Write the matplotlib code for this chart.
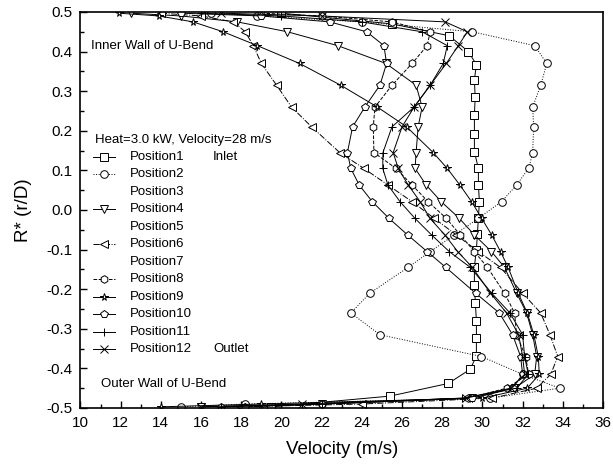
import numpy as np
import matplotlib as mpl
import matplotlib.pyplot as plt
from matplotlib.ticker import MultipleLocator

mpl.rcParams['font.family'] = ['Liberation Sans', 'DejaVu Sans']

# radial positions R* = r/D (shared grid for positions 2-12)
r_grid = [0.497, 0.49, 0.475, 0.45, 0.415, 0.37, 0.315, 0.26, 0.21, 0.145, 0.105, 0.063, 0.021,
          -0.021, -0.063, -0.105, -0.145, -0.21, -0.26, -0.315, -0.37, -0.415, -0.45, -0.475, -0.49, -0.497]
# inlet traverse uses its own grid
r_pos1 = [0.497, 0.47, 0.44, 0.40, 0.367, 0.329, 0.285, 0.239, 0.192, 0.147, 0.105, 0.063, 0.021,
          -0.019, -0.061, -0.10, -0.143, -0.189, -0.236, -0.28, -0.324, -0.368, -0.402, -0.438, -0.47, -0.497]

v_pos1 = [20.0, 25.5, 28.35, 29.3, 29.7, 29.6, 29.64, 29.6, 29.6, 29.6, 29.8, 29.8, 29.85,
          29.8, 29.75, 29.7, 29.6, 29.6, 29.65, 29.7, 29.7, 29.7, 29.4, 28.3, 25.4, 19.5]
v_pos2 = [16.5, 18.8, 24.0, 29.5, 32.6, 33.2, 32.9, 32.5, 32.55, 32.5, 32.3, 31.7, 30.95,
          29.8, 28.6, 27.4, 26.3, 24.4, 23.45, 24.9, 29.95, 32.0, 33.85, 30.4, 18.2, 15.0]
v_pos4 = [12.5, 15.0, 17.8, 20.3, 22.8, 25.2, 26.7, 27.0, 26.8, 26.7, 26.65, 27.2, 27.95,
          28.85, 29.6, 30.45, 31.1, 31.7, 32.2, 32.5, 32.7, 32.6, 31.6, 29.5, 22.0, 16.0]
v_pos6 = [14.0, 16.0, 17.6, 18.2, 18.6, 19.0, 19.76, 20.5, 21.5, 22.9, 24.1, 25.3, 26.5,
          27.6, 28.7, 29.8, 30.9, 32.0, 32.9, 33.36, 33.75, 33.4, 32.7, 30.5, 24.0, 18.0]
v_pos8 = [19.0, 22.0, 25.5, 27.4, 27.25, 26.5, 25.5, 24.65, 24.57, 24.6, 25.7, 26.5, 27.3,
          28.2, 28.9, 29.6, 30.25, 31.1, 31.6, 31.7, 32.15, 32.3, 31.2, 29.3, 22.0, 18.2]
v_pos9 = [11.9, 13.9, 15.6, 17.1, 18.8, 20.9, 22.95, 24.77, 26.23, 27.55, 28.25, 28.88, 29.46,
          29.96, 30.46, 30.9, 31.28, 31.78, 32.23, 32.56, 32.78, 32.83, 32.23, 30.0, 19.0, 14.0]
v_pos10 = [15.0, 19.0, 22.4, 24.24, 25.1, 25.23, 24.9, 24.15, 23.54, 23.28, 23.45, 23.87, 24.52,
           25.35, 26.28, 27.25, 28.18, 29.66, 30.84, 31.5, 31.9, 32.0, 31.5, 29.5, 22.0, 17.0]
v_pos11 = [16.0, 20.0, 24.0, 27.0, 28.25, 28.05, 27.4, 26.6, 25.5, 25.05, 25.04, 25.3, 25.9,
           26.64, 27.47, 28.35, 29.4, 30.46, 31.37, 32.0, 32.1, 32.28, 31.7, 29.0, 22.0, 17.0]
v_pos12 = [17.0, 22.0, 28.15, 29.25, 28.8, 28.2, 27.4, 26.6, 26.0, 25.56, 25.81, 26.31, 26.9,
           27.39, 28.13, 28.77, 29.5, 30.4, 31.2, 31.8, 32.0, 32.1, 31.4, 29.2, 21.0, 16.0]

labels = ['Position%d' % i for i in range(1, 13)]
x_ticks = list(range(10, 37, 2))
y_ticks = [-0.5, -0.4, -0.3, -0.2, -0.1, 0.0, 0.1, 0.2, 0.3, 0.4, 0.5]
y_ticklabels = ['-0.5', '-0.4', '-0.3', '-0.2', '-0.1', '0.0', '0.1', '0.2', '0.3', '0.4', '0.5']

# (r, v, marker, linestyle) for each traverse; positions 3, 5 and 7 are not visible in the figure
series = {
    1: (r_pos1, v_pos1, 's', '-'),
    2: (r_grid, v_pos2, 'o', ':'),
    4: (r_grid, v_pos4, 'v', '-'),
    6: (r_grid, v_pos6, '<', '-.'),
    8: (r_grid, v_pos8, 'h', '--'),
    9: (r_grid, v_pos9, '*', '-'),
    10: (r_grid, v_pos10, 'p', '-'),
    11: (r_grid, v_pos11, '+', '-'),
    12: (r_grid, v_pos12, 'x', '-'),
}
MS = 5.5

fig = plt.figure(figsize=(6.13, 4.72), dpi=100)
ax = fig.add_axes([0.1313, 0.1356, 0.8524, 0.839])

for k, (r, v, m, ls) in series.items():
    ax.plot(v, r, ls=ls, lw=0.7, color='black', marker=m, ms=MS,
            mfc='white', mec='black', mew=0.7)

ax.set_xlim(10, 36)
ax.set_ylim(-0.5, 0.5)
ax.set_xticks(x_ticks)
ax.set_yticks(y_ticks)
ax.set_yticklabels(y_ticklabels)
ax.xaxis.set_minor_locator(MultipleLocator(1))
ax.yaxis.set_minor_locator(MultipleLocator(0.05))
ax.tick_params(which='both', direction='in', top=False, right=False, labelsize=11, width=1)
ax.tick_params(which='major', length=5, pad=6)
ax.tick_params(which='minor', length=3)
for s in ax.spines.values():
    s.set_linewidth(1.2)

ax.set_xlabel('Velocity (m/s)', fontsize=13.5, labelpad=8)
ax.set_ylabel('R* (r/D)', fontsize=13.5, labelpad=10)

# annotations
ax.text(0.021, 0.914, 'Inner Wall of U-Bend', transform=ax.transAxes, fontsize=9.5, va='center')
ax.text(0.039, 0.061, 'Outer Wall of U-Bend', transform=ax.transAxes, fontsize=9.5, va='center')
ax.text(0.028, 0.677, 'Heat=3.0 kW, Velocity=28 m/s', transform=ax.transAxes, fontsize=9.5, va='center')

# hand-placed legend
y0, dy = 0.6346, 17.5 / 396
hx0, hx1, tx = (93 - 80.5) / 522.5, (115 - 80.5) / 522.5, (130 - 80.5) / 522.5
for i in range(12):
    yy = y0 - i * dy
    if i + 1 in series:
        _, _, m, ls = series[i + 1]
        ax.plot([hx0, hx1], [yy, yy], transform=ax.transAxes, ls=ls, lw=0.7, color='black',
                clip_on=False)
        ax.plot([(hx0 + hx1) / 2], [yy], transform=ax.transAxes, marker=m, ms=MS, mfc='white',
                mec='black', mew=0.7, clip_on=False)
    ax.text(tx, yy, labels[i], transform=ax.transAxes, fontsize=9.5, va='center')
ax.text(0.2536, y0, 'Inlet', transform=ax.transAxes, fontsize=9.5, va='center')
ax.text(0.2536, y0 - 11 * dy, 'Outlet', transform=ax.transAxes, fontsize=9.5, va='center')

fig.savefig('out.png', dpi=100)
